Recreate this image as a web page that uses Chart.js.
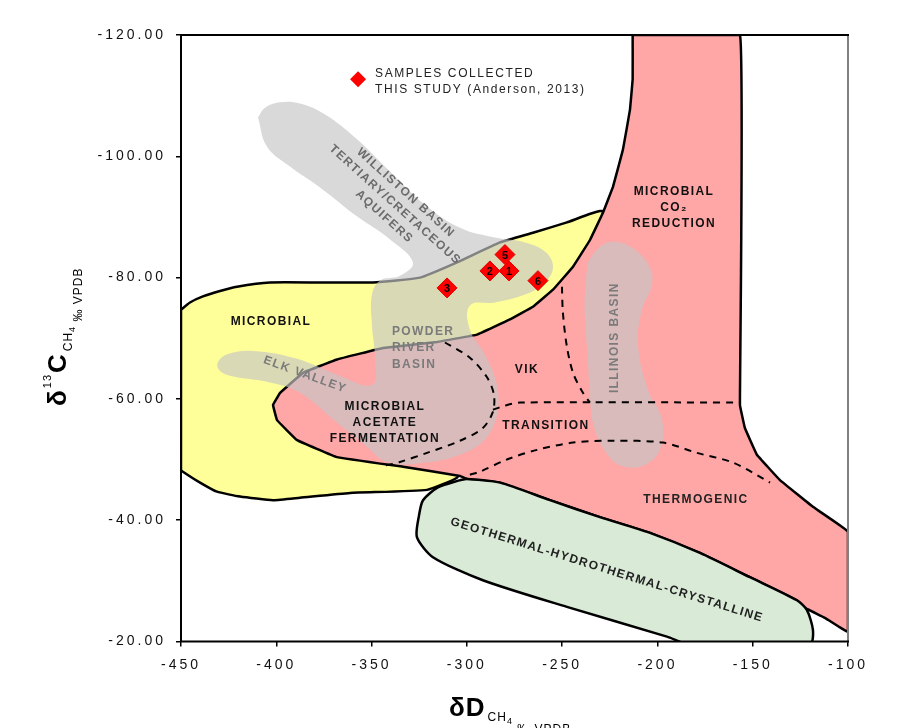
<!DOCTYPE html>
<html>
<head>
<meta charset="utf-8">
<title>Methane dD vs d13C genetic fields</title>
<script src="https://cdn.jsdelivr.net/npm/chart.js@4.4.1/dist/chart.umd.min.js"></script>
<style>
  html, body { margin: 0; padding: 0; background: #fff; }
  canvas { display: block; }
</style>
</head>
<body>
<canvas id="chart" width="900" height="728"></canvas>
<script>
// axis ticks
const dTicks = [-450, -400, -350, -300, -250, -200, -150, -100];
const cTicks = [-120, -100, -80, -60, -40, -20];

// samples (this study), dD / d13C
const sampleIds = ['5', '2', '1', '6', '3'];
const sampleD = [-280.0, -287.9, -277.9, -262.7, -310.4];
const sampleC = [-83.8, -81.1, -81.1, -79.5, -78.3];

// genetic fields, [dD, d13C] outlines
const microbialZone = [
  [-450, -74.7], [-445.3, -75.9], [-438.5, -76.9], [-429.5, -77.8], [-420.6, -78.5], [-403.3, -79.2],
  [-377, -79.2], [-349.3, -79.2], [-324.6, -80], [-305.2, -82.5], [-282.6, -85.8], [-265.3, -87.4],
  [-247.5, -89.1], [-228.6, -90.9], [-240.7, -76.4], [-293, -56.5], [-303, -48.5], [-305.2, -47],
  [-320.9, -45], [-361.3, -44.5], [-387.6, -43.7], [-401.7, -43.3], [-419, -43.9], [-431.1, -44.7],
  [-440, -46.2], [-449, -48], [-450, -48.3], [-450, -74.7]
];
const thermoZone = [
  [-213, -120], [-156.7, -120], [-156.7, -59], [-154.1, -55.2], [-147.8, -50.8], [-135.7, -46.6],
  [-118.4, -42.2], [-100, -38.1], [-100, -21.6], [-112.1, -23.9], [-123.7, -25.7], [-126.8, -26.8],
  [-151.5, -30.6], [-177.7, -34.6], [-203.9, -37.9], [-230.2, -40.5], [-256.4, -43.3], [-282.6, -46.2],
  [-300, -46.8], [-303.6, -47.3], [-333.5, -48.8], [-368.2, -50.4], [-389.1, -53.2], [-399.6, -56.5],
  [-401.7, -59], [-398, -61], [-386, -64.3], [-368.2, -66.5], [-344, -68.4], [-315.7, -69.4],
  [-294.7, -70.6], [-277.4, -73.1], [-265.3, -75.2], [-254.8, -78], [-244.3, -81.8], [-235.4, -86.2],
  [-228.6, -90.7], [-223.3, -95], [-218.1, -101.1], [-214.4, -107.7], [-213, -112.7], [-213, -120]
];
const geothermalZone = [
  [-303.6, -46.6], [-315.2, -45.4], [-323, -43.3], [-325.1, -40.8], [-326.2, -37.2], [-317.8, -33.9],
  [-291.6, -30.1], [-247.5, -25.7], [-195, -20.8], [-183, -19.5], [-120, -19.5], [-118.4, -21.9],
  [-121.6, -25.2], [-126.8, -26.8], [-151.5, -30.6], [-177.7, -34.6], [-203.9, -37.9], [-230.2, -40.5],
  [-256.4, -43.3], [-282.6, -46.2], [-300, -46.8], [-303.6, -46.6]
];

// basin fields (gray): Williston + Powder River + Elk Valley, and Illinois
const westernBasins = [
  [-409.6, -106.4], [-405.9, -108], [-398, -108.9], [-387.6, -108.7], [-374.4, -106.9], [-358.7, -103.1],
  [-340.3, -97.5], [-322, -92], [-303.6, -88.2], [-285.3, -86.6], [-269.5, -85.8], [-259, -84.3],
  [-254.8, -81.8], [-259, -79.2], [-269.5, -77.2], [-285.3, -75.9], [-298.4, -75.4], [-298.4, -71.4],
  [-290.5, -67.3], [-284.2, -62.3], [-284.2, -57.4], [-290.5, -53.3], [-303.6, -50.8], [-322, -49.5],
  [-341.4, -49.5], [-353.5, -52.4], [-368.2, -56.1], [-387.6, -61], [-403.3, -62.7], [-424.3, -63.8],
  [-430.1, -64.8], [-430.6, -66.1], [-425.3, -67.4], [-412.2, -67.9], [-389.1, -66.6], [-368.2, -64],
  [-349.8, -62.3], [-348.2, -66.5], [-349.8, -72.2], [-349.8, -77.2], [-345.6, -79.5], [-335.1, -80.3],
  [-328.3, -82.5], [-340.3, -86.3], [-357.7, -90.1], [-375.5, -94.5], [-392.8, -98.3], [-404.9, -101.6],
  [-409.6, -106.4]
];
const illinoisBasin = [
  [-236.5, -82.6], [-230.2, -85.1], [-222.3, -85.9], [-211.8, -84.6], [-203.9, -81.6], [-202.9, -78.8],
  [-208.1, -74.7], [-210.2, -68.9], [-205, -61.5], [-197.6, -56.6], [-198.7, -51.6], [-206.6, -49.1],
  [-217.1, -48.8], [-224.9, -50.3], [-232.8, -54.9], [-235.4, -59.9], [-236.5, -66.5], [-238, -73.1],
  [-238, -78], [-236.5, -82.6]
];

// dashed sub-field boundaries
const acetateEdge = [
  [-311.5, -69.3], [-298.4, -66.8], [-289.5, -63.6], [-285.8, -60.7], [-286.3, -57.9], [-291.6, -55.2],
  [-303.6, -53.1], [-320.9, -51.1], [-335.1, -49.6], [-343, -49]
];
const transitionTop = [[-286.3, -58.2], [-280, -58.9], [-272.1, -59.4], [-156.7, -59.4]];
const vikEdge = [[-250.1, -78.5], [-249.6, -74.2], [-247.5, -68.6], [-244.3, -64.3], [-239.1, -61], [-235.4, -59.4]];
const thermoEdge = [
  [-298.4, -47.5], [-293.1, -48], [-279, -50], [-263.2, -51.6], [-244.3, -52.8], [-223.3, -53.1],
  [-197.1, -52.8], [-179.3, -51.1], [-160.4, -49.5], [-140.9, -46.2]
];

const xy = a => a.map(([x, y]) => ({x, y}));

function zone(data, fillColor, order, tension) {
  return {
    data: xy(data), fill: 'shape', backgroundColor: fillColor, borderColor: '#000',
    borderWidth: 2.5, pointRadius: 0, tension: tension, order: order, borderJoinStyle: 'round'
  };
}
function blob(data, order) {
  return {
    data: xy(data), fill: 'shape', backgroundColor: 'rgba(198,198,198,0.66)', borderWidth: 0,
    borderColor: 'rgba(0,0,0,0)', pointRadius: 0, tension: 0.4, order: order
  };
}
function dashed(data) {
  return {
    data: xy(data), fill: false, borderColor: '#000', borderWidth: 2, borderDash: [7, 6],
    pointRadius: 0, tension: 0.3, order: 2
  };
}

const datasets = [
  zone(microbialZone, '#FFFF99', 10, 0.15),
  zone(thermoZone, '#FFA6A6', 9, 0.05),
  zone(geothermalZone, '#D9EBD7', 8, 0.25),
  blob(westernBasins, 5),
  blob(illinoisBasin, 4),
  dashed(acetateEdge),
  dashed(transitionTop),
  dashed(vikEdge),
  dashed(thermoEdge),
  {
    data: sampleD.map((d, i) => ({x: d, y: sampleC[i]})),
    showLine: false, pointStyle: 'rectRot', pointRadius: 10, backgroundColor: '#FF0000',
    borderColor: '#E00000', borderWidth: 1, order: 0
  }
];

// in-plot labels, positioned in data units
const labels = [
  {lines: ['MICROBIAL', 'CO\u2082', 'REDUCTION'], x: -191.3, y: -91.5, gap: 16},
  {lines: ['MICROBIAL'], x: -402.8, y: -72.7},
  {lines: ['POWDER', 'RIVER', 'BASIN'], x: -339.3, y: -68.4, gap: 16.5, color: '#7a7a7a', align: 'left'},
  {lines: ['ELK VALLEY'], x: -384.9, y: -64, rot: 20, color: '#7a7a7a'},
  {lines: ['MICROBIAL', 'ACETATE', 'FERMENTATION'], x: -343, y: -56.1, gap: 16},
  {lines: ['VIK'], x: -268.5, y: -64.8},
  {lines: ['TRANSITION'], x: -258.5, y: -55.6},
  {lines: ['ILLINOIS BASIN'], x: -222.3, y: -70.1, rot: -90, color: '#7a7a7a'},
  {lines: ['THERMOGENIC'], x: -179.8, y: -43.3, color: '#222'},
  {lines: ['GEOTHERMAL-HYDROTHERMAL-CRYSTALLINE'], x: -226.5, y: -31.8, rot: 17.3, color: '#222'},
  {lines: ['WILLISTON BASIN', 'TERTIARY/CRETACEOUS', 'AQUIFERS'], x: -337.7, y: -92, rot: 42, gap: 16, color: '#6a6a6a'}
];

const FONT = '"Liberation Sans", Arial, sans-serif';

const framePlugin = {
  id: 'frame',
  beforeDraw(chart) { chart.ctx.letterSpacing = '3px'; },
  beforeDatasetsDraw(chart) { chart.ctx.letterSpacing = '0px'; },
  afterDatasetsDraw(chart) {
    const {ctx, chartArea: a} = chart;
    ctx.save();
    ctx.lineCap = 'square';
    ctx.strokeStyle = '#808080';
    ctx.lineWidth = 2;
    ctx.beginPath(); ctx.moveTo(a.right, a.top); ctx.lineTo(a.right, a.bottom); ctx.stroke();
    ctx.strokeStyle = '#000';
    ctx.beginPath(); ctx.moveTo(a.left, a.top); ctx.lineTo(a.right, a.top); ctx.stroke();
    ctx.beginPath(); ctx.moveTo(a.left, a.top); ctx.lineTo(a.left, a.bottom); ctx.lineTo(a.right, a.bottom); ctx.stroke();
    ctx.restore();
  }
};

function putText(ctx, s, x, y, font, color) {
  ctx.font = font; ctx.fillStyle = color || '#000';
  ctx.fillText(s, x, y);
  return x + ctx.measureText(s).width;
}

const textPlugin = {
  id: 'texts',
  afterDraw(chart) {
    const {ctx} = chart;
    const xs = chart.scales.x, ys = chart.scales.y;
    ctx.save();
    ctx.letterSpacing = '1.4px';
    ctx.textBaseline = 'middle';
    for (const l of labels) {
      const px = xs.getPixelForValue(l.x), py = ys.getPixelForValue(l.y);
      ctx.save();
      ctx.translate(px, py);
      if (l.rot) ctx.rotate(l.rot * Math.PI / 180);
      ctx.font = 'bold 12px ' + FONT;
      ctx.fillStyle = l.color || '#111';
      ctx.textAlign = l.align || 'center';
      const n = l.lines.length, g = l.gap || 0;
      l.lines.forEach((s, i) => ctx.fillText(s, 0, (i - (n - 1) / 2) * g));
      ctx.restore();
    }

    // sample numbers
    ctx.font = 'bold 11px ' + FONT;
    ctx.letterSpacing = '0px';
    ctx.textAlign = 'center';
    ctx.fillStyle = '#000';
    sampleIds.forEach((id, i) => {
      ctx.fillText(id, xs.getPixelForValue(sampleD[i]), ys.getPixelForValue(sampleC[i]) + 1);
    });

    // legend in the upper part of the plot
    const lx = xs.getPixelForValue(-357.1), ly = ys.getPixelForValue(-112.7);
    ctx.fillStyle = '#FF0000';
    ctx.beginPath();
    ctx.moveTo(lx, ly - 8); ctx.lineTo(lx + 8, ly); ctx.lineTo(lx, ly + 8); ctx.lineTo(lx - 8, ly);
    ctx.closePath(); ctx.fill();
    ctx.letterSpacing = '1.6px';
    ctx.textAlign = 'left';
    ctx.font = '12px ' + FONT;
    ctx.fillStyle = '#222';
    ctx.fillText('SAMPLES COLLECTED', lx + 17, ly - 6);
    ctx.fillText('THIS STUDY (Anderson, 2013)', lx + 17, ly + 10);

    // axis titles with sub/superscripts
    ctx.letterSpacing = '1px';
    ctx.textBaseline = 'alphabetic';
    ctx.textAlign = 'left';
    let x = 449;
    const by = 716;
    x = putText(ctx, '\u03b4D', x, by, 'bold 26px ' + FONT);
    x = putText(ctx, 'CH', x + 2, by + 5, '12px ' + FONT);
    x = putText(ctx, '4', x, by + 8, '9px ' + FONT);
    putText(ctx, ' \u2030 VPDB', x, by + 17, '12px ' + FONT);

    ctx.save();
    ctx.translate(66, 406);
    ctx.rotate(-Math.PI / 2);
    let t = 0;
    t = putText(ctx, '\u03b4', t, 0, 'bold 26px ' + FONT);
    t = putText(ctx, '13', t + 1, -15, '11px ' + FONT);
    t = putText(ctx, 'C', t + 1, 0, 'bold 26px ' + FONT);
    t = putText(ctx, 'CH', t + 2, 6, '12px ' + FONT);
    t = putText(ctx, '4', t, 9, '9px ' + FONT);
    putText(ctx, ' \u2030 VPDB', t, 16, '12px ' + FONT);
    ctx.restore();
    ctx.restore();
  }
};

new Chart(document.getElementById('chart'), {
  type: 'line',
  data: {datasets},
  plugins: [framePlugin, textPlugin],
  options: {
    responsive: false,
    animation: false,
    events: [],
    layout: {padding: {top: 35, right: 52, left: 0, bottom: 0}},
    plugins: {legend: {display: false}, tooltip: {enabled: false}},
    scales: {
      x: {
        type: 'linear', min: dTicks[0], max: dTicks[dTicks.length - 1],
        afterBuildTicks: s => { s.ticks = dTicks.map(v => ({value: v})); },
        afterFit: s => { s.height = 86.5; },
        border: {display: false},
        grid: {drawOnChartArea: false, drawTicks: true, tickLength: 5, color: '#000', lineWidth: 1.5},
        ticks: {color: '#111', padding: 10, font: {family: FONT, size: 14}, callback: v => String(v)}
      },
      y: {
        type: 'linear', reverse: true, min: cTicks[0], max: cTicks[cTicks.length - 1],
        afterBuildTicks: s => { s.ticks = cTicks.map(v => ({value: v})); },
        afterFit: s => { s.width = 181; },
        border: {display: false},
        grid: {drawOnChartArea: false, drawTicks: true, tickLength: 5, color: '#000', lineWidth: 1.5},
        ticks: {color: '#111', padding: 10, font: {family: FONT, size: 14}, callback: v => v.toFixed(2)}
      }
    }
  }
});
</script>
</body>
</html>
